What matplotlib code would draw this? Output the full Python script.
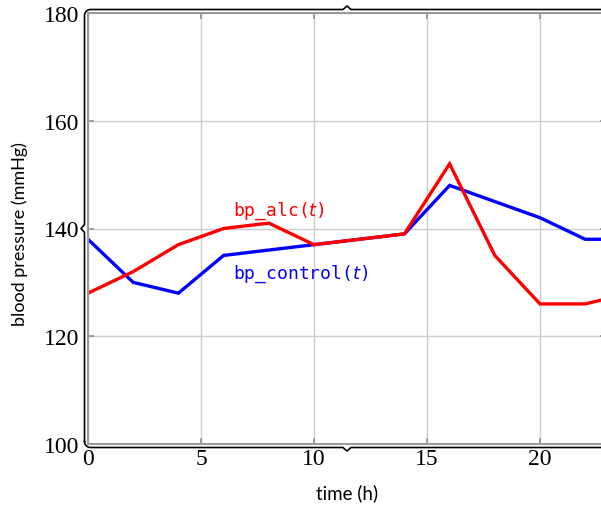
import numpy as np
import matplotlib.pyplot as plt
from matplotlib.lines import Line2D
from matplotlib.transforms import IdentityTransform

# hourly blood pressure readings (mmHg)
hours = [0, 2, 4, 6, 8, 10, 12, 14, 16, 18, 20, 22, 24]
bp_control = [138, 130, 128, 135, 136, 137, 138, 139, 148, 145, 142, 138, 138]
bp_alc = [128, 132, 137, 140, 141, 137, 138, 139, 152, 135, 126, 126, 128]

x_ticks = [0, 5, 10, 15, 20]
y_ticks = [100, 120, 140, 160, 180]

W, H = 601, 506
fig = plt.figure(figsize=(W / 100, H / 100), dpi=100)

# axes box in pixels (left, top, right, bottom), right edge runs off the canvas
L, T, R, B = 88, 14, 606, 445
ax = fig.add_axes([L / W, 1 - B / H, (R - L) / W, (B - T) / H])

ax.plot(hours, bp_control, color='#0000ff', lw=2.4, solid_joinstyle='miter')
ax.plot(hours, bp_alc, color='#ff0000', lw=2.4, solid_joinstyle='miter')

ax.set_xlim(0, 22.92)
ax.set_ylim(100, 180)
ax.set_xticks(x_ticks)
ax.set_yticks(y_ticks)
ax.grid(True, color='#cccccc', lw=1)
ax.tick_params(direction='in', length=4, width=1.3, color='#999999',
               top=True, right=True, labelsize=17)
ax.tick_params(axis='x', pad=3)
ax.tick_params(axis='y', pad=6)
for lab in ax.get_xticklabels() + ax.get_yticklabels():
    lab.set_fontfamily('Liberation Serif')
for s in ax.spines.values():
    s.set_color('#9a9a9a')
    s.set_linewidth(1.5)

ax.text(6.4, 143.4, 'bp_alc($t$)', color='#ff0000', fontsize=13,
        family='DejaVu Sans Mono', va='center')
ax.text(6.4, 131.7, 'bp_control($t$)', color='#0000ff', fontsize=13,
        family='DejaVu Sans Mono', va='center')

fig.text(347 / W, 1 - 493 / H, 'time (h)', fontsize=13.5, family='Lato',
         ha='center', va='center')
fig.text(20 / W, 1 - 234 / H, 'blood pressure (mmHg)', fontsize=13,
         family='Lato', ha='center', va='center', rotation=90)


# black brace-style frame drawn just outside the axes box
def arc(cx, cy, r, a0, a1):
    a = np.radians(np.linspace(a0, a1, 12))
    return list(zip(cx + r * np.cos(a), cy + r * np.sin(a)))


o, r, tip, hw = 3.5, 6, 3.5, 4
bl, br, bt, bb = L - o, R + o, T - o, B + o
my = (bt + bb) / 2
mx = (bl + br) / 2
pts = [(bl, bb - r), (bl, my + hw), (bl - tip, my), (bl, my - hw), (bl, bt + r)]
pts += arc(bl + r, bt + r, r, 180, 270)
pts += [(mx - hw, bt), (mx, bt - tip), (mx + hw, bt), (br - r, bt)]
pts += arc(br - r, bt + r, r, 270, 360)
pts += [(br, bb - r)]
pts += arc(br - r, bb - r, r, 0, 90)
pts += [(mx + hw, bb), (mx, bb + tip), (mx - hw, bb), (bl + r, bb)]
pts += arc(bl + r, bb - r, r, 90, 180)
px = [p[0] for p in pts]
py = [H - p[1] for p in pts]
fig.add_artist(Line2D(px, py, transform=IdentityTransform(), color='black',
                      lw=1.2, solid_joinstyle='round'))

fig.savefig('out.png', dpi=100)
